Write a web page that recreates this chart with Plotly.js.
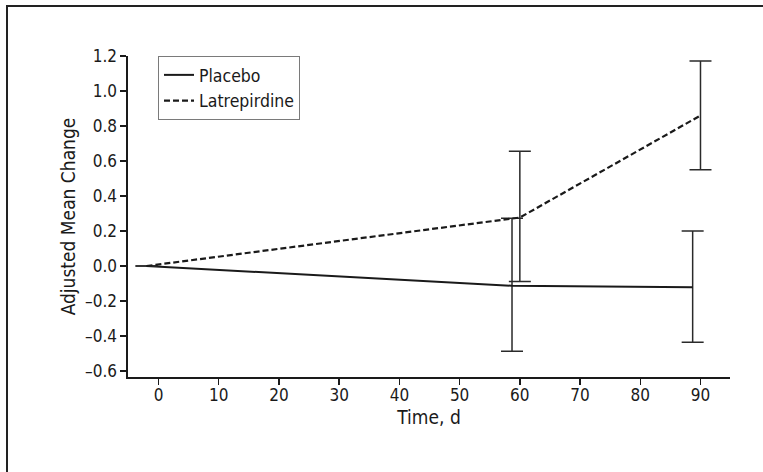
<!DOCTYPE html>
<html>
<head>
<meta charset="utf-8">
<script src="https://cdn.plot.ly/plotly-3.0.1.min.js"></script>
<style>
html,body{margin:0;padding:0;background:#fff;}
#chart{width:763px;height:472px;}
</style>
</head>
<body>
<div id="chart"></div>
<script>
// Data
const placeboDays = [-2, 58.7, 88.7];
const placeboMean = [0, -0.113, -0.121];
const placeboUpper = [0, 0.273, 0.200];
const placeboLower = [0, -0.487, -0.435];

const latDays = [-2, 60, 90];
const latMean = [0, 0.277, 0.860];
const latUpper = [0, 0.656, 1.171];
const latLower = [0, -0.088, 0.550];

const xTicks = [0, 10, 20, 30, 40, 50, 60, 70, 80, 90];
const yTicks = [-0.6, -0.4, -0.2, 0, 0.2, 0.4, 0.6, 0.8, 1.0, 1.2];
const yTickText = ['\u20130.6', '\u20130.4', '\u20130.2', '0.0', '0.2', '0.4', '0.6', '0.8', '1.0', '1.2'];

const FONT = '"DejaVu Sans Condensed", "Liberation Sans Narrow", sans-serif';

function errs(mean, upper, lower) {
  return {
    plus: mean.map((m, i) => upper[i] === lower[i] ? null : upper[i] - m),
    minus: mean.map((m, i) => upper[i] === lower[i] ? null : m - lower[i])
  };
}
const pe = errs(placeboMean, placeboUpper, placeboLower);
const le = errs(latMean, latUpper, latLower);

const traces = [
  {
    x: placeboDays, y: placeboMean, name: 'Placebo', type: 'scatter', mode: 'lines',
    line: {color: '#1a1a1a', width: 2},
    error_y: {type: 'data', symmetric: false, array: pe.plus, arrayminus: pe.minus,
              color: '#2a2a2a', thickness: 1.5, width: 11}
  },
  {
    x: latDays, y: latMean, name: 'Latrepirdine', type: 'scatter', mode: 'lines',
    line: {color: '#1a1a1a', width: 2.2, dash: '6px,3px'},
    error_y: {type: 'data', symmetric: false, array: le.plus, arrayminus: le.minus,
              color: '#2a2a2a', thickness: 1.5, width: 11}
  }
];

const L = 128, R = 730, T = 56, B = 377, W = 763, H = 472;
const px = v => (v - L) / (R - L);
const py = v => (B - v) / (B - T);

const layout = {
  width: W, height: H,
  margin: {l: L, r: W - R, t: T, b: H - B, pad: 0},
  paper_bgcolor: '#fff', plot_bgcolor: '#fff',
  font: {family: FONT, size: 17, color: '#1a1a1a'},
  showlegend: true,
  legend: {
    x: px(158), y: 1, xanchor: 'left', yanchor: 'top',
    bordercolor: '#7a7a7a', borderwidth: 1, bgcolor: '#fff',
    font: {family: FONT, size: 17.5, color: '#1a1a1a'},
    itemwidth: 30, tracegroupgap: 0
  },
  xaxis: {
    range: [-5.07, 94.9], tickvals: xTicks, ticktext: xTicks.map(String),
    showline: true, linecolor: '#1a1a1a', linewidth: 1.6,
    ticks: 'outside', ticklen: 6, tickwidth: 1.4, tickcolor: '#1a1a1a',
    showgrid: false, zeroline: false, ticklabelstandoff: -4,
    tickfont: {family: FONT, size: 17},
    title: {text: 'Time, d', font: {family: FONT, size: 19}, standoff: 6}
  },
  yaxis: {
    range: [-0.634, 1.2], tickvals: yTicks, ticktext: yTickText,
    showline: true, linecolor: '#1a1a1a', linewidth: 1.6,
    ticks: 'outside', ticklen: 6, tickwidth: 1.4, tickcolor: '#1a1a1a',
    showgrid: false, zeroline: false,
    tickfont: {family: FONT, size: 17},
    title: {text: 'Adjusted Mean Change', font: {family: FONT, size: 19}, standoff: 4}
  },
  shapes: [
    {type: 'line', xref: 'paper', yref: 'paper', x0: px(7), x1: px(763), y0: py(6), y1: py(6), line: {color: '#222', width: 2}},
    {type: 'line', xref: 'paper', yref: 'paper', x0: px(7), x1: px(7), y0: py(5), y1: py(472), line: {color: '#222', width: 2}}
  ]
};

Plotly.newPlot('chart', traces, layout, {staticPlot: true, displayModeBar: false});
</script>
</body>
</html>
